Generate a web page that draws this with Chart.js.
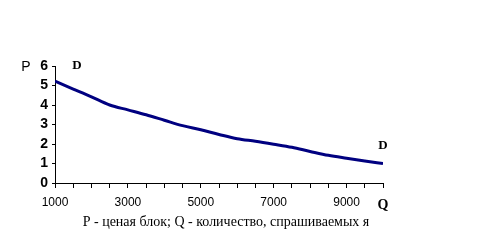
<!DOCTYPE html>
<html>
<head>
<meta charset="utf-8">
<script src="https://cdn.jsdelivr.net/npm/chart.js@4/dist/chart.umd.min.js"></script>
<style>
html,body{margin:0;padding:0;background:#fff;}
#wrap{width:492px;height:252px;position:relative;}
</style>
</head>
<body>
<div id="wrap"><canvas id="c" width="492" height="252"></canvas></div>
<script>
const quantities = [1000,1500,2000,2500,3000,3500,4000,4500,5000,5500,6000,6500,7000,7500,8000,8500,9000,9500,10000];
const prices = [5.22,4.82,4.42,4.0,3.75,3.5,3.22,2.94,2.73,2.49,2.27,2.14,1.99,1.83,1.62,1.42,1.27,1.13,1.0];
const xTickLabels = [1000,3000,5000,7000,9000];
const yTickValues = [0,1,2,3,4,5,6];
const yAxisLabel = "P";
const xAxisLabel = "Q";
const curveLabel = "D";
const caption = "P - ценая блок; Q - количество, спрашиваемых я";

const overlay = {
  id: 'overlay',
  afterDraw(chart) {
    const ctx = chart.ctx;
    const xs = chart.scales.x, ys = chart.scales.y;
    ctx.save();
    ctx.fillStyle = '#000';
    ctx.textBaseline = 'middle';
    ctx.textAlign = 'center';
    ctx.font = '14px "Liberation Sans", Arial, sans-serif';
    ctx.fillText(yAxisLabel, 26, ys.getPixelForValue(6) + 1);
    ctx.font = 'bold 14px "Liberation Serif", "Times New Roman", serif';
    ctx.fillText(xAxisLabel, xs.getPixelForValue(10000), 205);
    ctx.font = 'bold 13px "Liberation Serif", "Times New Roman", serif';
    ctx.fillText(curveLabel, 77, ys.getPixelForValue(6));
    ctx.fillText(curveLabel, xs.getPixelForValue(10000), 146);
    ctx.font = '14px "Liberation Serif", "Times New Roman", serif';
    ctx.fillText(caption, 226, 222);
    ctx.restore();
  }
};

new Chart(document.getElementById('c'), {
  type: 'line',
  data: {
    datasets: [{
      data: quantities.map((q,i)=>({x:q,y:prices[i]})),
      borderColor: '#000080',
      borderWidth: 3,
      pointRadius: 0,
      cubicInterpolationMode: 'monotone',
      fill: false
    }]
  },
  options: {
    responsive: false,
    animation: false,
    events: [],
    layout: { padding: { top: 66, right: 109, bottom: 0, left: 0 } },
    plugins: { legend: { display: false }, tooltip: { enabled: false } },
    scales: {
      x: {
        type: 'linear', min: 1000, max: 10000,
        afterFit(s){ s.height = 69; },
        afterBuildTicks(s){ s.ticks = quantities.map(v=>({value:v})); },
        grid: { display: true, drawOnChartArea: false, drawTicks: true, tickLength: 5, color: '#000', lineWidth: 1 },
        border: { display: true, color: '#000', width: 1 },
        ticks: {
          autoSkip: false, maxRotation: 0, padding: 7,
          color: '#000',
          font: { family: '"Liberation Sans", Arial, sans-serif', size: 12 },
          callback: (v) => xTickLabels.includes(v) ? String(v) : ''
        }
      },
      y: {
        min: 0, max: 6,
        afterFit(s){ s.width = 55; },
        afterBuildTicks(s){ s.ticks = yTickValues.map(v=>({value:v})); },
        grid: { display: true, drawOnChartArea: false, drawTicks: true, tickLength: 3, color: '#000', lineWidth: 1 },
        border: { display: true, color: '#000', width: 1 },
        ticks: {
          autoSkip: false, padding: 4, color: '#000',
          font: { family: '"Liberation Sans", Arial, sans-serif', size: 14, weight: 'bold' }
        }
      }
    }
  },
  plugins: [overlay]
});
</script>
</body>
</html>
